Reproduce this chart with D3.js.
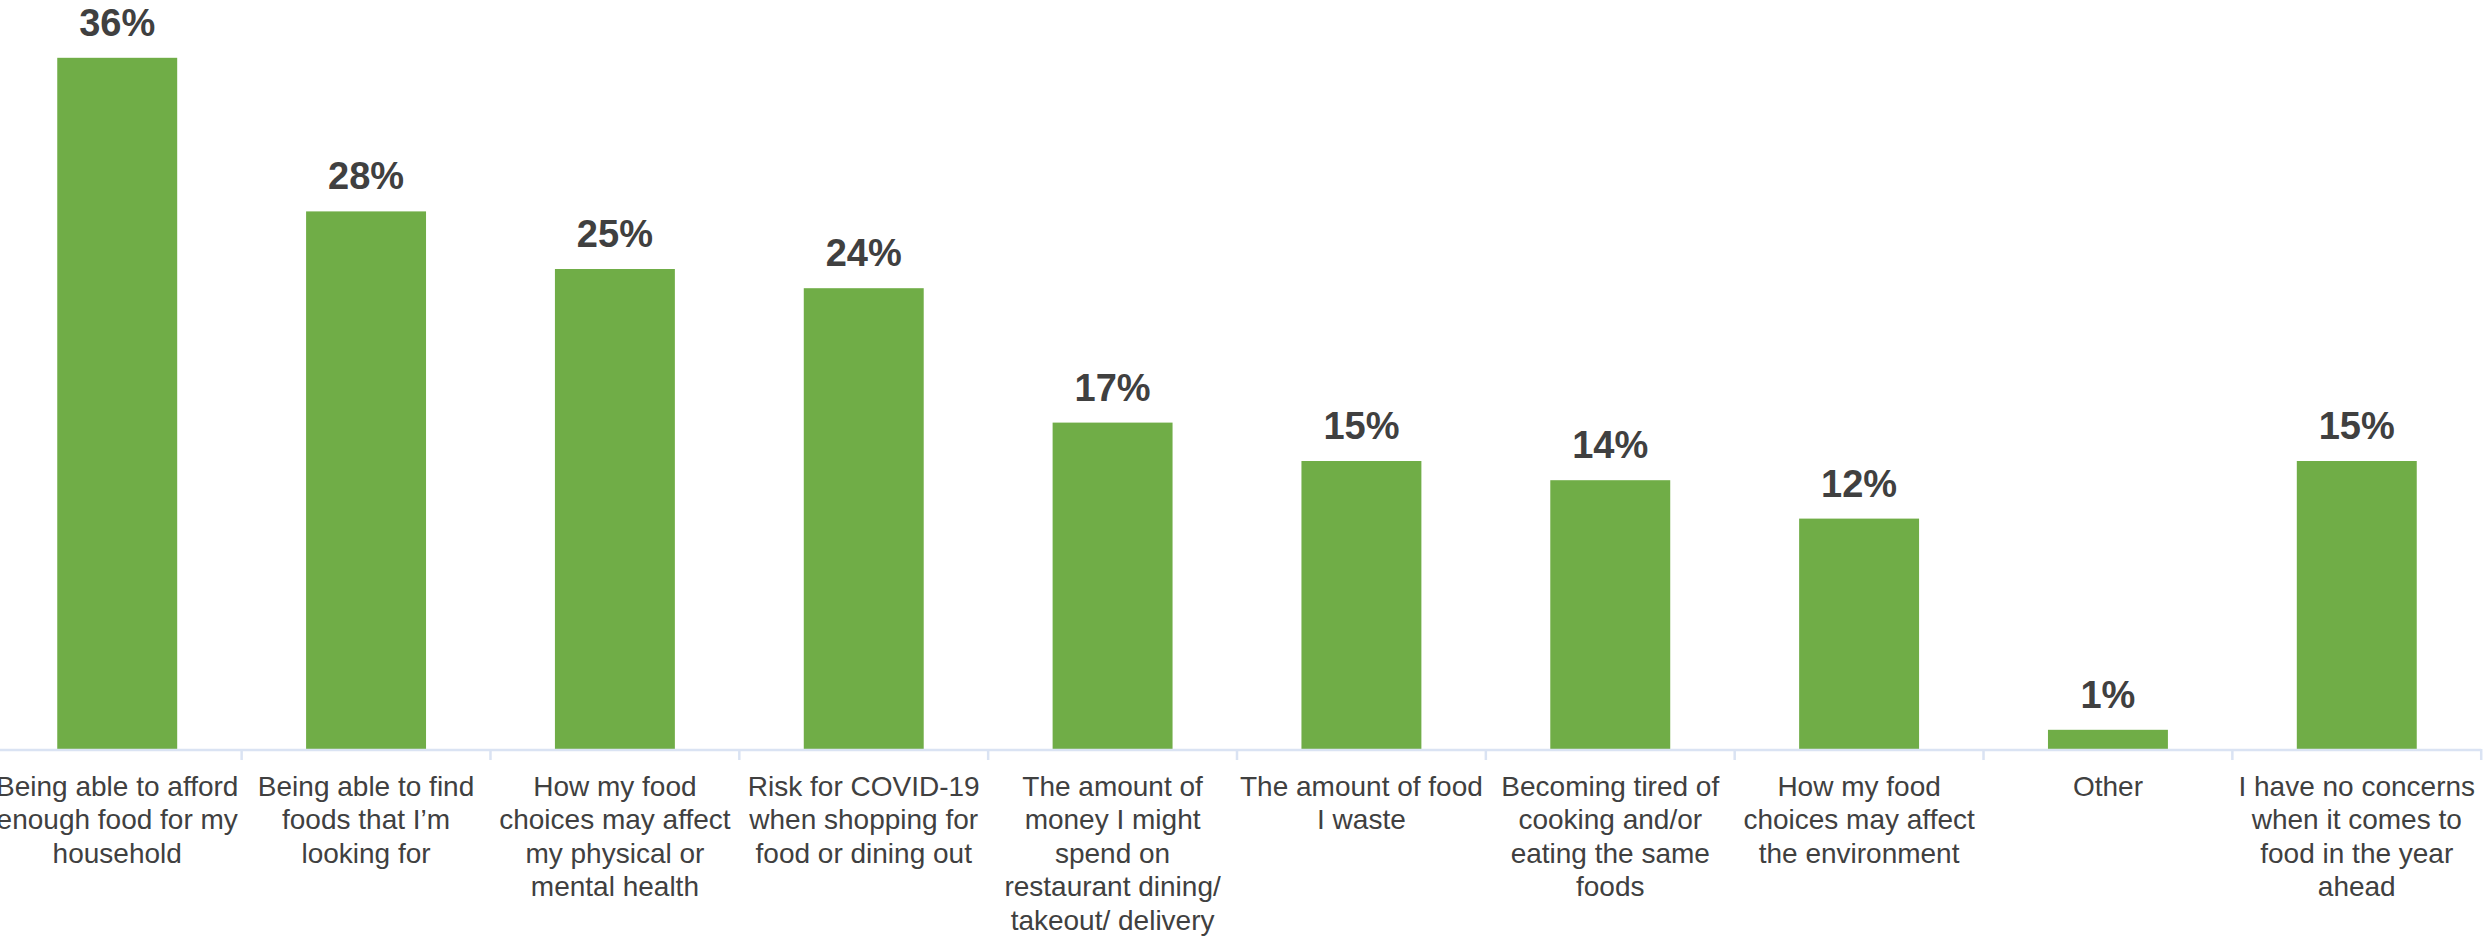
<!DOCTYPE html>
<html>
<head>
<meta charset="utf-8">
<script src="https://cdn.jsdelivr.net/npm/d3@7"></script>
<style>
  html, body { margin: 0; padding: 0; background: #ffffff; }
  svg { display: block; }
</style>
</head>
<body>
<svg id="chart" width="2484" height="937"></svg>
<script>
// Food concerns for the year ahead (share of respondents)
const categories = [
  "Being able to afford enough food for my household",
  "Being able to find foods that I’m looking for",
  "How my food choices may affect my physical or mental health",
  "Risk for COVID-19 when shopping for food or dining out",
  "The amount of money I might spend on restaurant dining/ takeout/ delivery",
  "The amount of food I waste",
  "Becoming tired of cooking and/or eating the same foods",
  "How my food choices may affect the environment",
  "Other",
  "I have no concerns when it comes to food in the year ahead"
];

// Wrapped lines for each category label
const labelLines = [
  ["Being able to afford", "enough food for my", "household"],
  ["Being able to find", "foods that I’m", "looking for"],
  ["How my food", "choices may affect", "my physical or", "mental health"],
  ["Risk for COVID-19", "when shopping for", "food or dining out"],
  ["The amount of", "money I might", "spend on", "restaurant dining/", "takeout/ delivery"],
  ["The amount of food", "I waste"],
  ["Becoming tired of", "cooking and/or", "eating the same", "foods"],
  ["How my food", "choices may affect", "the environment"],
  ["Other"],
  ["I have no concerns", "when it comes to", "food in the year", "ahead"]
];

const values = [0.36, 0.28, 0.25, 0.24, 0.17, 0.15, 0.14, 0.12, 0.01, 0.15];

const svg = d3.select("#chart");
const W = 2484, H = 937;

svg.append("rect").attr("width", W).attr("height", H).attr("fill", "#ffffff");

const baseY = 749;
const x = d3.scaleBand()
  .domain(categories)
  .range([-7.2, 2481.2])
  .paddingInner(0.518)
  .paddingOuter(0.259);

const y = d3.scaleLinear()
  .domain([0, 0.4])
  .range([baseY, baseY - 0.4 * 1920]);

const fmt = d3.format(".0%");
const textColor = "#404040";

// Bars
svg.append("g")
  .selectAll("rect")
  .data(values)
  .join("rect")
  .attr("x", (d, i) => x(categories[i]))
  .attr("y", d => y(d))
  .attr("width", x.bandwidth())
  .attr("height", d => y(0) - y(d))
  .attr("fill", "#70ad47");

// Value labels
svg.append("g")
  .selectAll("text")
  .data(values)
  .join("text")
  .attr("x", (d, i) => x(categories[i]) + x.bandwidth() / 2)
  .attr("y", d => y(d) - 22)
  .attr("text-anchor", "middle")
  .attr("font-family", "'Liberation Sans', Arial, sans-serif")
  .attr("font-weight", "bold")
  .attr("font-size", 38)
  .attr("fill", textColor)
  .text(d => fmt(d));

// Category axis: baseline and boundary ticks
const step = x.step();
const edges = d3.range(categories.length + 1).map(i => x(categories[0]) - x.paddingInner() * step / 2 + i * step);
const axis = svg.append("g");
axis.append("line")
  .attr("x1", 0).attr("x2", edges[edges.length - 1])
  .attr("y1", baseY + 1).attr("y2", baseY + 1)
  .attr("stroke", "#dae3f3").attr("stroke-width", 2.5);
axis.selectAll("line.tick")
  .data(edges)
  .join("line")
  .attr("class", "tick")
  .attr("x1", d => d).attr("x2", d => d)
  .attr("y1", baseY).attr("y2", baseY + 11)
  .attr("stroke", "#dae3f3").attr("stroke-width", 2.5);

// Category labels
const lbl = svg.append("g")
  .selectAll("text")
  .data(labelLines)
  .join("text")
  .attr("text-anchor", "middle")
  .attr("font-family", "'Liberation Sans', Arial, sans-serif")
  .attr("font-size", 28)
  .attr("fill", textColor);

lbl.each(function(lines, i) {
  const cx = x(categories[i]) + x.bandwidth() / 2;
  d3.select(this).selectAll("tspan")
    .data(lines)
    .join("tspan")
    .attr("x", cx)
    .attr("y", (d, j) => 796 + j * 33.4)
    .text(d => d);
});
</script>
</body>
</html>
